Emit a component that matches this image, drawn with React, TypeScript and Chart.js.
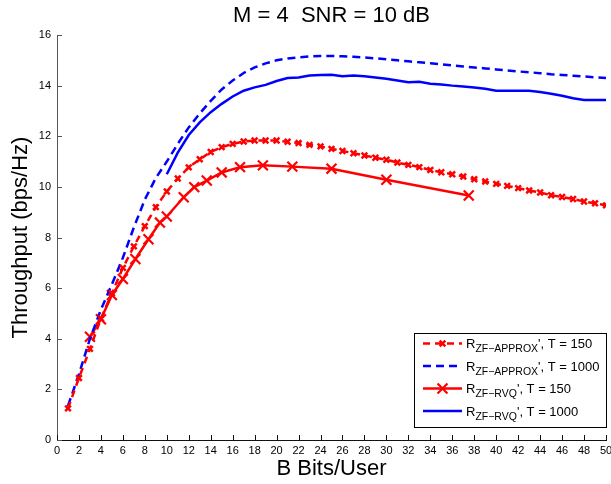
import React, { useEffect, useRef } from 'react';
import { Chart, registerables } from 'chart.js';

Chart.register(...registerables);

const FONT = '"Liberation Sans", Arial, Helvetica, sans-serif';

// ---- text ----
const titleText = 'M = 4  SNR = 10 dB';
const xAxisTitle = 'B Bits/User';
const yAxisTitle = 'Throughput (bps/Hz)';

// ---- axis ranges / ticks ----
const xMin = 0;
const xMax = 50;
const xStep = 2;
const yMin = 0;
const yMax = 16;
const yStep = 2;

// ---- series: R_ZF-APPROX, T = 150 (red dashed, markers) ----
const approx150B = [
  1, 2, 3, 4, 5, 6, 7, 8, 9, 10, 11, 12, 13, 14, 15, 16, 17, 18, 19, 20, 21, 22, 23, 24, 25,
  26, 27, 28, 29, 30, 31, 32, 33, 34, 35, 36, 37, 38, 39, 40, 41, 42, 43, 44, 45, 46, 47, 48, 49, 50,
];
const approx150Rate = [
  1.25, 2.45, 3.6, 4.8, 5.8, 6.8, 7.65, 8.45, 9.2, 9.82, 10.33, 10.77, 11.09, 11.38, 11.57, 11.7, 11.79, 11.83, 11.83, 11.83, 11.78, 11.73, 11.66, 11.6, 11.5,
  11.42, 11.33, 11.24, 11.15, 11.07, 10.96, 10.87, 10.78, 10.67, 10.58, 10.5, 10.41, 10.3, 10.21, 10.12, 10.04, 9.95, 9.86, 9.78, 9.67, 9.6, 9.52, 9.42, 9.35, 9.27,
];

// ---- series: R_ZF-APPROX, T = 1000 (blue dashed) ----
const approx1000B = [
  1, 2, 3, 4, 5, 6, 7, 8, 9, 10, 11, 12, 13, 14, 15, 16, 17, 18, 19, 20, 21, 22, 23, 24, 25,
  26, 27, 28, 29, 30, 31, 32, 33, 34, 35, 36, 37, 38, 39, 40, 41, 42, 43, 44, 45, 46, 47, 48, 49, 50,
];
const approx1000Rate = [
  1.35, 2.6, 4.0, 5.15, 6.15, 7.2, 8.4, 9.5, 10.35, 11.0, 11.7, 12.35, 12.9, 13.4, 13.85, 14.2, 14.5, 14.72, 14.88, 15.0, 15.07, 15.12, 15.15, 15.17, 15.17,
  15.16, 15.14, 15.11, 15.08, 15.04, 15.0, 14.96, 14.92, 14.88, 14.84, 14.8, 14.76, 14.72, 14.68, 14.64, 14.6, 14.56, 14.53, 14.49, 14.45, 14.42, 14.39, 14.36, 14.33, 14.3,
];

// ---- series: R_ZF-RVQ, T = 150 (red solid, X markers) ----
const rvq150B = [3, 4, 5, 6, 7.14, 8.33, 9.375, 10, 11.54, 12.5, 13.64, 15, 16.67, 18.75, 21.43, 25, 30, 37.5];
const rvq150Rate = [4.08, 4.77, 5.73, 6.36, 7.15, 7.93, 8.59, 8.83, 9.59, 9.99, 10.25, 10.57, 10.78, 10.85, 10.8, 10.72, 10.28, 9.66];

// ---- series: R_ZF-RVQ, T = 1000 (blue solid) ----
const rvq1000B = [
  10, 11, 12, 13, 14, 15, 16, 17, 18, 19, 20, 21, 22, 23, 24, 25, 26, 27, 28, 29,
  30, 31, 32, 33, 34, 35, 36, 37, 38, 39, 40, 41, 42, 43, 44, 45, 46, 47, 48, 49, 50,
];
const rvq1000Rate = [
  10.5, 11.35, 12.05, 12.55, 12.95, 13.28, 13.57, 13.8, 13.93, 14.03, 14.18, 14.3, 14.32, 14.4, 14.42, 14.43, 14.37, 14.4, 14.37, 14.32,
  14.27, 14.2, 14.13, 14.15, 14.07, 14.04, 14.0, 13.97, 13.93, 13.88, 13.8, 13.8, 13.8, 13.8, 13.75, 13.68, 13.6, 13.5, 13.43, 13.43, 13.43,
];

// ---- legend labels ----
const legendMain = ['R', 'R', 'R', 'R'];
const legendSub = ['ZF\u2212APPROX', 'ZF\u2212APPROX', 'ZF\u2212RVQ', 'ZF\u2212RVQ'];
const legendTail = ["', T = 150", "', T = 1000", "', T = 150", "', T = 1000"];

const RED = '#ff0000';
const BLUE = '#0000ff';

function toPoints(xs: number[], ys: number[]) {
  return xs.map((x, i) => ({ x, y: ys[i] }));
}

function drawCross(ctx: CanvasRenderingContext2D, x: number, y: number, r: number) {
  const o = Math.cos(Math.PI / 4) * r;
  ctx.beginPath();
  ctx.moveTo(x - o, y - o);
  ctx.lineTo(x + o, y + o);
  ctx.moveTo(x - o, y + o);
  ctx.lineTo(x + o, y - o);
  ctx.stroke();
}

const inwardTicks = {
  id: 'inwardTicks',
  afterDatasetsDraw(chart: any) {
    const { ctx, chartArea, scales } = chart;
    ctx.save();
    ctx.lineWidth = 1;
    ctx.setLineDash([]);
    ctx.strokeStyle = '#111';
    scales.x.ticks.forEach((t: any) => {
      const px = Math.round(scales.x.getPixelForValue(t.value)) + 0.5;
      ctx.beginPath();
      ctx.moveTo(px, chartArea.bottom);
      ctx.lineTo(px, chartArea.bottom - 5);
      ctx.stroke();
    });
    ctx.strokeStyle = '#555';
    scales.y.ticks.forEach((t: any) => {
      const py = Math.round(scales.y.getPixelForValue(t.value)) + 0.5;
      ctx.beginPath();
      ctx.moveTo(chartArea.left, py);
      ctx.lineTo(chartArea.left + 5, py);
      ctx.stroke();
    });
    ctx.restore();
  },
};

const subLegend = {
  id: 'subLegend',
  afterDraw(chart: any) {
    const { ctx, chartArea } = chart;
    const boxW = 192;
    const boxH = 94;
    const right = chartArea.right;
    const bottom = chartArea.bottom - 13;
    const left = right - boxW;
    const top = bottom - boxH;
    ctx.save();
    ctx.fillStyle = '#fff';
    ctx.fillRect(left, top, boxW, boxH);
    ctx.strokeStyle = '#000';
    ctx.lineWidth = 1;
    ctx.setLineDash([]);
    ctx.strokeRect(Math.round(left) + 0.5, Math.round(top) + 0.5, boxW, boxH);

    chart.data.datasets.forEach((ds: any, i: number) => {
      const rowY = top + 10.5 + i * 22.5;
      const x0 = left + 9;
      const x1 = left + 48;
      ctx.strokeStyle = ds.borderColor;
      ctx.lineWidth = ds.borderWidth;
      ctx.setLineDash(ds.borderDash || []);
      ctx.beginPath();
      ctx.moveTo(x0, rowY);
      ctx.lineTo(x1, rowY);
      ctx.stroke();
      ctx.setLineDash([]);
      if (ds.pointRadius > 0) {
        ctx.lineWidth = ds.pointBorderWidth;
        drawCross(ctx, (x0 + x1) / 2, rowY, ds.pointRadius);
      }
      // text with subscript
      ctx.fillStyle = '#000';
      ctx.textBaseline = 'alphabetic';
      ctx.textAlign = 'left';
      let tx = left + 52;
      const base = rowY + 4.5;
      ctx.font = `13px ${FONT}`;
      ctx.fillText(legendMain[i], tx, base);
      tx += ctx.measureText(legendMain[i]).width;
      ctx.font = `10.5px ${FONT}`;
      ctx.fillText(legendSub[i], tx, base + 4);
      tx += ctx.measureText(legendSub[i]).width;
      ctx.font = `13px ${FONT}`;
      ctx.fillText(legendTail[i], tx, base);
    });
    ctx.restore();
  },
};

export default function App() {
  const canvasRef = useRef<HTMLCanvasElement | null>(null);

  useEffect(() => {
    if (!canvasRef.current) return;
    const tickFont = { family: FONT, size: 11 };
    const chart = new Chart(canvasRef.current, {
      type: 'line',
      data: {
        datasets: [
          {
            label: legendMain[0] + legendSub[0] + legendTail[0],
            data: toPoints(approx150B, approx150Rate),
            borderColor: RED,
            backgroundColor: RED,
            borderWidth: 2.5,
            borderDash: [7, 5],
            pointStyle: 'crossRot',
            pointRadius: 4,
            pointBorderWidth: 2.5,
            pointBorderColor: RED,
            fill: false,
            tension: 0,
          },
          {
            label: legendMain[1] + legendSub[1] + legendTail[1],
            data: toPoints(approx1000B, approx1000Rate),
            borderColor: BLUE,
            backgroundColor: BLUE,
            borderWidth: 2.5,
            borderDash: [8, 5],
            pointRadius: 0,
            pointBorderWidth: 0,
            fill: false,
            tension: 0,
          },
          {
            label: legendMain[2] + legendSub[2] + legendTail[2],
            data: toPoints(rvq150B, rvq150Rate),
            borderColor: RED,
            backgroundColor: RED,
            borderWidth: 2.5,
            pointStyle: 'crossRot',
            pointRadius: 7,
            pointBorderWidth: 2.2,
            pointBorderColor: RED,
            fill: false,
            tension: 0,
          },
          {
            label: legendMain[3] + legendSub[3] + legendTail[3],
            data: toPoints(rvq1000B, rvq1000Rate),
            borderColor: BLUE,
            backgroundColor: BLUE,
            borderWidth: 2.5,
            pointRadius: 0,
            pointBorderWidth: 0,
            fill: false,
            tension: 0,
          },
        ],
      },
      options: {
        animation: false,
        responsive: false,
        maintainAspectRatio: false,
        events: [],
        layout: { autoPadding: false, padding: { left: 0, right: 5, top: 0, bottom: 0 } },
        plugins: {
          legend: { display: false },
          tooltip: { enabled: false },
          title: {
            display: true,
            text: titleText,
            color: '#000',
            fullSize: false,
            font: { family: FONT, size: 22, weight: 'normal' },
            padding: { top: 3, bottom: 5.6 },
          },
        },
        scales: {
          x: {
            type: 'linear',
            min: xMin,
            max: xMax,
            ticks: {
              stepSize: xStep,
              autoSkip: false,
              maxRotation: 0,
              color: '#000',
              font: tickFont,
              padding: 4,
            },
            grid: { display: true, drawOnChartArea: false, drawTicks: false },
            border: { display: true, color: '#111', width: 1 },
            title: {
              display: true,
              text: xAxisTitle,
              color: '#000',
              font: { family: FONT, size: 22 },
              padding: { top: 0, bottom: 2 },
            },
            afterFit(s: any) {
              s.height = 44;
              s.paddingLeft = 0;
              s.paddingRight = 0;
            },
          },
          y: {
            type: 'linear',
            min: yMin,
            max: yMax,
            ticks: {
              stepSize: yStep,
              autoSkip: false,
              color: '#000',
              font: tickFont,
              padding: 6,
            },
            grid: { display: true, drawOnChartArea: false, drawTicks: false },
            border: { display: true, color: '#555', width: 1 },
            title: {
              display: true,
              text: yAxisTitle,
              color: '#000',
              font: { family: FONT, size: 22 },
              padding: { top: 8, bottom: 0 },
            },
            afterFit(s: any) {
              s.width = 57;
              s.paddingTop = 0;
              s.paddingBottom = 0;
            },
          },
        },
      },
      plugins: [inwardTicks, subLegend],
    } as any);
    return () => chart.destroy();
  }, []);

  return (
    <div style={{ position: 'fixed', left: 0, top: 0, width: 611, height: 484, background: '#fff' }}>
      <canvas ref={canvasRef} width={611} height={484} style={{ display: 'block' }} />
    </div>
  );
}
